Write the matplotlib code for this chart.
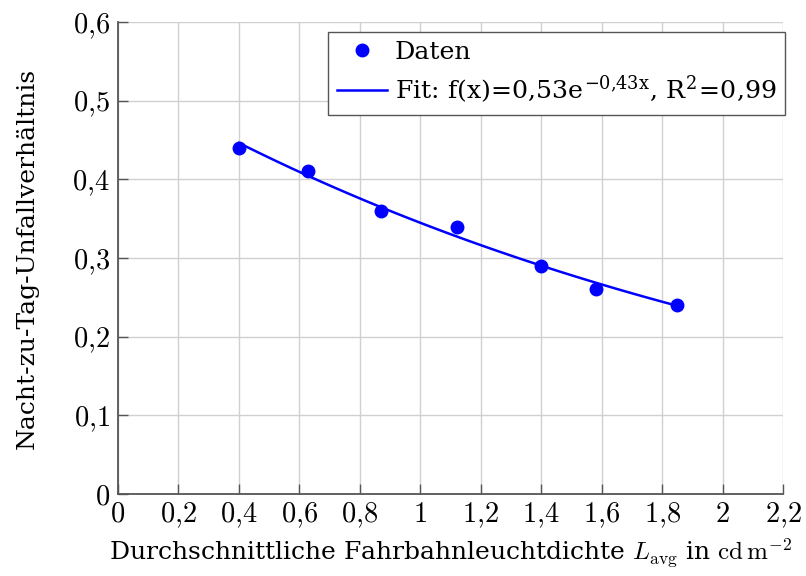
import numpy as np
import matplotlib
matplotlib.use("Agg")
import matplotlib.pyplot as plt

luminance = [0.40, 0.63, 0.87, 1.12, 1.40, 1.58, 1.85]
ratio = [0.44, 0.41, 0.36, 0.34, 0.29, 0.26, 0.24]

# fit parameters shown in the legend: f(x) = a * exp(b * x)
fit_a = 0.53
fit_b = -0.43

x_ticks = [0, 0.2, 0.4, 0.6, 0.8, 1.0, 1.2, 1.4, 1.6, 1.8, 2.0, 2.2]
x_tick_labels = ["0", "0,2", "0,4", "0,6", "0,8", "1", "1,2", "1,4", "1,6", "1,8", "2", "2,2"]
y_ticks = [0, 0.1, 0.2, 0.3, 0.4, 0.5, 0.6]
y_tick_labels = ["0", "0,1", "0,2", "0,3", "0,4", "0,5", "0,6"]

plt.rcParams['font.family'] = ['DejaVu Serif']
plt.rcParams['mathtext.fontset'] = 'cm'

fig = plt.figure(figsize=(8.06, 5.76), dpi=100)
ax = fig.add_axes([0.1464, 0.1424, 0.8251, 0.8194])

# fit curve over the data range
xf = np.linspace(min(luminance), max(luminance), 100)
yf = fit_a * np.exp(fit_b * xf)

ax.plot(luminance, ratio, 'o', color='blue', markersize=9, linestyle='none', label='Daten', zorder=3)
ax.plot(xf, yf, color='blue', linewidth=1.8,
        label=r'Fit: f(x)=0,53e$^{\mathregular{-0{,}43x}}$, R$^{\mathregular{2}}$=0,99', zorder=2)

ax.set_xlim(0, 2.2)
ax.set_ylim(0, 0.6)
ax.set_xticks(x_ticks)
ax.set_xticklabels(['$' + s.replace(',', '{,}') + '$' for s in x_tick_labels])
ax.set_yticks(y_ticks)
ax.set_yticklabels(['$' + s.replace(',', '{,}') + '$' for s in y_tick_labels])
ax.tick_params(direction='in', length=7, width=1, color='#555555', labelsize=20.5)
ax.tick_params(axis='x', pad=5)
ax.tick_params(axis='y', pad=6)

# grid behind, light gray
ax.set_axisbelow(True)
ax.grid(color='#d0d0d0', linewidth=1)

for side in ['top', 'right']:
    ax.spines[side].set_visible(False)
for side in ['left', 'bottom']:
    ax.spines[side].set_color('#555555')
    ax.spines[side].set_linewidth(1.3)

ax.set_xlabel(r'Durchschnittliche Fahrbahnleuchtdichte $L_\mathrm{avg}$ in $\mathrm{cd\,m^{-2}}$', fontsize=18, labelpad=4)
ax.set_ylabel('Nacht-zu-Tag-Unfallverhältnis', fontsize=18, labelpad=24)

leg = ax.legend(loc='upper right', bbox_to_anchor=(1.003, 0.978), borderaxespad=0,
                fontsize=18.2, fancybox=False, framealpha=1, edgecolor='#555555',
                handlelength=2.0, handletextpad=0.3, borderpad=0.35, labelspacing=0.35)
leg.get_frame().set_linewidth(1)

plt.savefig('out.png', dpi=100)
